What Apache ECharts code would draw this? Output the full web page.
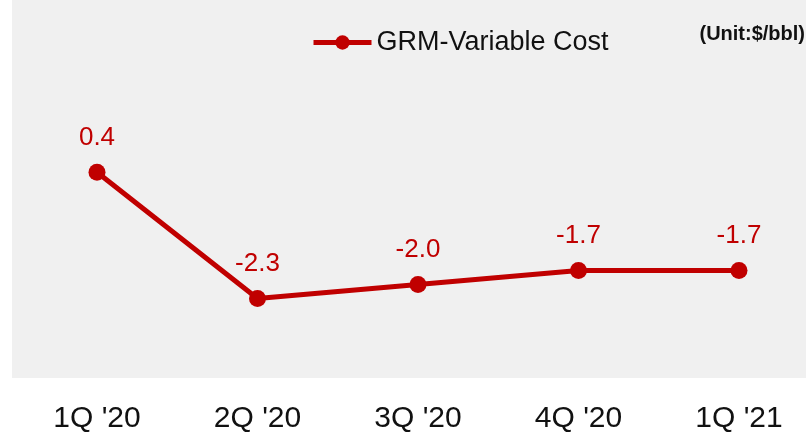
<!DOCTYPE html>
<html>
<head>
<meta charset="utf-8">
<script src="https://cdn.jsdelivr.net/npm/echarts@6/dist/echarts.min.js"></script>
<style>
  html, body { margin: 0; padding: 0; background: #fff; }
  #main { width: 806px; height: 434px; }
</style>
</head>
<body>
<div id="main"></div>
<script>
var quarters = ["1Q '20", "2Q '20", "3Q '20", "4Q '20", "1Q '21"];
var grmVariableCost = [0.4, -2.3, -2.0, -1.7, -1.7];

var red = '#C00000';
var fontName = '"Liberation Sans", Arial, sans-serif';
var myChart = echarts.init(document.getElementById('main'));
var option = {
    backgroundColor: '#fff',
    graphic: [
        {
            type: 'rect', z: -10,
            shape: { x: 12, y: 0, width: 794, height: 378 },
            style: { fill: '#F0F0F0' }
        },
        {
            type: 'text', right: 1, top: 24,
            style: {
                text: '(Unit:$/bbl)', fill: '#111',
                font: 'bold 20px ' + fontName
            }
        }
    ],
    legend: {
        data: ['GRM-Variable Cost'],
        left: 306, top: 24,
        itemWidth: 58, itemHeight: 18,
        itemGap: 4,
        lineStyle: { width: 5 },
        textStyle: { color: '#111', fontSize: 27, fontFamily: fontName }
    },
    grid: { left: 97, right: 67, top: 4, bottom: 52 },
    xAxis: {
        type: 'category',
        data: quarters,
        boundaryGap: false,
        axisLine: { show: false },
        axisTick: { show: false },
        axisLabel: { margin: 26, color: '#111', fontSize: 30, fontFamily: fontName }
    },
    yAxis: {
        type: 'value', min: -4, max: 4,
        show: false,
        splitLine: { show: false }
    },
    series: [{
        name: 'GRM-Variable Cost',
        type: 'line',
        data: grmVariableCost,
        color: red,
        symbol: 'circle',
        symbolSize: 17,
        lineStyle: { width: 5, color: red },
        itemStyle: { color: red },
        label: {
            show: true, position: 'top', distance: 13,
            color: red, fontSize: 26, fontFamily: fontName,
            formatter: function (p) { return p.value.toFixed(1); }
        }
    }]
};
myChart.setOption(option);
</script>
</body>
</html>
